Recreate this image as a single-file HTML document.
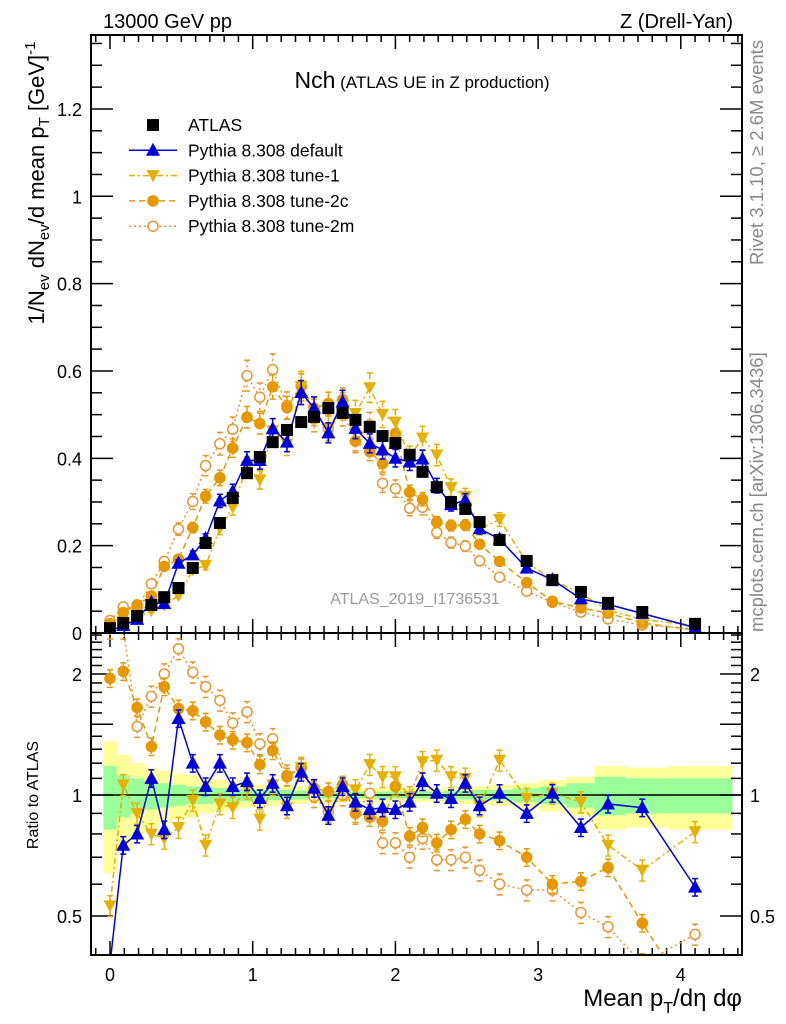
<!DOCTYPE html>
<html><head><meta charset="utf-8">
<style>
html,body{margin:0;padding:0;background:#fff;}
svg{display:block;font-family:"Liberation Sans",sans-serif;}
</style></head>
<body>
<svg id="chart" width="786" height="1024" viewBox="0 0 786 1024" xmlns="http://www.w3.org/2000/svg">
<defs>
<clipPath id="clipMain"><rect x="91" y="35" width="651" height="598"/></clipPath>
<clipPath id="clipRatio"><rect x="91" y="633" width="651" height="322"/></clipPath>
</defs>
<g id="bands" clip-path="url(#clipRatio)"></g>
<g id="ticks"></g>
<g id="series-main" clip-path="url(#clipMain)"></g>
<g id="series-ratio" clip-path="url(#clipRatio)"></g>
<rect x="91" y="35" width="651" height="598" fill="none" stroke="#000" stroke-width="2"/>
<rect x="91" y="633" width="651" height="322" fill="none" stroke="#000" stroke-width="2"/>
<text x="103" y="28" font-size="20">13000 GeV pp</text>
<text x="733" y="28" font-size="20" text-anchor="end">Z (Drell-Yan)</text>
<text x="422" y="88" text-anchor="middle"><tspan font-size="23">Nch</tspan><tspan font-size="17"> (ATLAS UE in Z production)</tspan></text>
<text x="415" y="604" font-size="16" fill="#999" text-anchor="middle">ATLAS_2019_I1736531</text>
<text transform="translate(44,183) rotate(-90)" font-size="22" text-anchor="middle">1/N<tspan font-size="15" dy="5">ev</tspan><tspan dy="-5"> dN</tspan><tspan font-size="15" dy="5">ev</tspan><tspan dy="-5">/d mean p</tspan><tspan font-size="15" dy="5">T</tspan><tspan dy="-5"> [GeV]</tspan><tspan font-size="15" dy="-9">-1</tspan></text>
<text transform="translate(38,795) rotate(-90)" font-size="16" text-anchor="middle">Ratio to ATLAS</text>
<text x="742" y="1006" font-size="24" text-anchor="end">Mean p<tspan font-size="16" dy="7">T</tspan><tspan dy="-7">/dη dφ</tspan></text>
<text transform="translate(763,265) rotate(-90)" font-size="18.5" fill="#888">Rivet 3.1.10, ≥ 2.6M events</text>
<text transform="translate(763,632) rotate(-90)" font-size="18.5" fill="#888">mcplots.cern.ch [arXiv:1306.3436]</text>
<g id="legend"></g>
</svg>
<script>
const xVals = [0,0.093,0.19,0.29,0.38,0.48,0.58,0.67,0.77,0.86,0.96,1.05,1.14,1.24,1.34,1.43,1.53,1.63,1.72,1.82,1.91,2.0,2.1,2.19,2.29,2.39,2.49,2.59,2.73,2.92,3.1,3.3,3.49,3.73,4.1];
const atlasVals = [0.011,0.023,0.039,0.064,0.082,0.103,0.149,0.206,0.252,0.309,0.366,0.403,0.437,0.465,0.483,0.495,0.515,0.504,0.488,0.472,0.451,0.435,0.408,0.369,0.334,0.300,0.284,0.254,0.213,0.165,0.121,0.094,0.069,0.048,0.021];
const ratioDefault = [0.38,0.75,0.80,1.10,0.82,1.55,1.20,1.05,1.20,1.05,1.08,0.98,1.07,0.94,1.14,1.04,0.89,1.05,0.96,0.92,0.93,0.92,0.96,1.08,1.01,0.98,1.07,0.94,1.01,0.90,1.01,0.83,0.95,0.93,0.59];
const ratioTune1 = [0.53,1.06,0.90,0.80,0.78,0.83,0.97,0.75,0.95,0.93,1.04,0.87,1.06,0.93,1.17,1.02,0.91,1.03,1.03,1.19,1.11,1.11,0.99,1.21,1.22,1.11,1.10,0.94,1.22,0.98,1.01,0.96,0.75,0.65,0.81];
const ratioTune2c = [1.95,2.03,1.65,1.32,1.86,1.64,1.62,1.52,1.41,1.37,1.35,1.19,1.29,1.11,1.17,1.04,1.02,1.06,0.90,0.88,0.86,1.05,0.79,0.83,0.76,0.82,0.87,0.80,0.77,0.70,0.60,0.61,0.66,0.48,0.30];
const ratioTune2m = [2.6,2.6,1.48,1.76,2.0,2.31,2.02,1.86,1.72,1.51,1.61,1.34,1.38,1.12,1.17,0.99,0.91,1.0,0.90,1.01,0.76,0.76,0.70,0.78,0.69,0.69,0.70,0.65,0.60,0.58,0.58,0.51,0.47,0.38,0.45];
const bandTotal = [0.36,0.26,0.2,0.17,0.15,0.13,0.12,0.1,0.09,0.08,0.07,0.06,0.06,0.05,0.05,0.04,0.04,0.04,0.04,0.04,0.04,0.04,0.04,0.04,0.04,0.045,0.05,0.05,0.06,0.07,0.09,0.11,0.18,0.17,0.18];
const bandStat = [0.18,0.12,0.1,0.08,0.07,0.06,0.05,0.05,0.04,0.04,0.035,0.03,0.03,0.03,0.025,0.02,0.02,0.02,0.02,0.02,0.02,0.02,0.02,0.02,0.02,0.025,0.025,0.03,0.03,0.04,0.05,0.07,0.11,0.1,0.1];
const mainYTicks = [0,0.2,0.4,0.6,0.8,1,1.2];
const mainYTickLabels = ["0","0.2","0.4","0.6","0.8","1","1.2"];
const xTicks = [0,1,2,3,4];
const ratioTicks = [0.5,1,2];

const NS="http://www.w3.org/2000/svg";
const sx = v => 110 + v*142.7;
const sy = v => 633 - v*436.7;
const sr = r => 795 - 121*Math.log2(r);
function mk(tag, parent, attrs){const e=document.createElementNS(NS,tag);for(const k in attrs)e.setAttribute(k,attrs[k]);parent.appendChild(e);return e;}

const bands=document.getElementById('bands');
function edges(i){const l=i===0?xVals[0]-(xVals[1]-xVals[0])/2:(xVals[i-1]+xVals[i])/2;const r=i===xVals.length-1?xVals[i]+(xVals[i]-xVals[i-1])*0.7:(xVals[i]+xVals[i+1])/2;return [l,r];}
xVals.forEach((x,i)=>{const [l,r]=edges(i);
 const y=mk('rect',bands,{x:sx(l),y:sr(1+bandTotal[i]),width:sx(r)-sx(l)+0.5,height:sr(1-bandTotal[i])-sr(1+bandTotal[i]),fill:'#ffff99'});
 
 
 const g=mk('rect',bands,{x:sx(l),y:sr(1+bandStat[i]),width:sx(r)-sx(l)+0.5,height:sr(1-bandStat[i])-sr(1+bandStat[i]),fill:'#99ff99'});
 
 
});
const one=mk('line',bands,{x1:91,x2:742,y1:sr(1),y2:sr(1),stroke:'#000','stroke-width':1.5});



const tk=document.getElementById('ticks');
function tline(x1,y1,x2,y2,w){mk('line',tk,{x1,y1,x2,y2,stroke:'#000','stroke-width':w||1.5});}
function tlabel(x,y,s,anchor,size){const t=mk('text',tk,{x,y,'font-size':size||18,'text-anchor':anchor});t.textContent=s;
 
 }
for(let v=0;v<=1.36;v+=0.05){const y=sy(v);const major=Math.abs(v/0.2-Math.round(v/0.2))<0.01;const L=major?22:11;tline(91,y,91+L,y);tline(742,y,742-L,y);}
mainYTicks.forEach((v,i)=>tlabel(82,sy(v)+7,mainYTickLabels[i],'end'));
for(let v=-0.1;v<=4.4;v+=0.1){const x=sx(v);const major=Math.abs(v-Math.round(v))<0.01;const L=major?14:7;
 tline(x,35,x,35+L);tline(x,633,x,633-L);tline(x,633,x,633+L);tline(x,955,x,955-L);}
xTicks.forEach(v=>tlabel(sx(v),981,String(v),'middle'));
const rminor=[0.4,0.6,0.7,0.8,0.9,1.1,1.2,1.3,1.4,1.6,1.7,1.8,1.9,2.1,2.2,2.3,2.4,2.5];
rminor.forEach(r=>{const y=sr(r);tline(91,y,102,y);tline(742,y,731,y);});
[0.5,1,1.5,2].forEach(r=>{const y=sr(r);tline(91,y,113,y);tline(742,y,720,y);});
ratioTicks.forEach(r=>{tlabel(82,sr(r)+7,String(r),'end');tlabel(750,sr(r)+7,String(r),'start');});

function marker(g,type,x,y,color,name){let e;
 if(type==='square')e=mk('rect',g,{x:x-6,y:y-6,width:12,height:12,fill:'#000'});
 else if(type==='up')e=mk('polygon',g,{points:`${x},${y-7.5} ${x-7},${y+5.5} ${x+7},${y+5.5}`,fill:color});
 else if(type==='down')e=mk('polygon',g,{points:`${x},${y+6.5} ${x-6.5},${y-5.5} ${x+6.5},${y-5.5}`,fill:color});
 else if(type==='dot')e=mk('circle',g,{cx:x,cy:y,r:5.8,fill:color});
 else e=mk('circle',g,{cx:x,cy:y,r:5,fill:'#fff',stroke:color,'stroke-width':1.5});
 
 
 return e;}

const series=[
 {name:'default',ratio:ratioDefault,color:'#0000dd',dash:'',type:'up',err:0.05},
 {name:'tune-1',ratio:ratioTune1,color:'#e6b000',dash:'6,3,2,3',type:'down',err:0.06},
 {name:'tune-2c',ratio:ratioTune2c,color:'#e69800',dash:'6,4',type:'dot',err:0.05},
 {name:'tune-2m',ratio:ratioTune2m,color:'#ea9530',dash:'2,3',type:'open',err:0.06}
];
const gm=document.getElementById('series-main');
const gr=document.getElementById('series-ratio');
[...series].reverse().forEach(s=>{
 ['main','ratio'].forEach(panel=>{
  const g=panel==='main'?gm:gr;
  const vals=s.ratio.map((r,i)=>panel==='main'?r*atlasVals[i]:r);
  const Y=panel==='main'?sy:sr;
  const pts=vals.map((v,i)=>`${sx(xVals[i])},${Y(v)}`).join(' ');
  const pl=mk('polyline',g,{points:pts,fill:'none',stroke:s.color,'stroke-width':1.5,'stroke-dasharray':s.dash});
  
  
  vals.forEach((v,i)=>{const x=sx(xVals[i]);const y1=Y(v*(1+s.err)),y2=Y(v*(1-s.err));
   mk('line',g,{x1:x,x2:x,y1,y2,stroke:s.color,'stroke-width':1.5,'stroke-dasharray':s.dash});
   mk('line',g,{x1:x-3,x2:x+3,y1,y2:y1,stroke:s.color,'stroke-width':1.5});
   mk('line',g,{x1:x-3,x2:x+3,y1:y2,y2:y2,stroke:s.color,'stroke-width':1.5});
   marker(g,s.type,x,Y(v),s.color,`${panel}-point-${s.name}`);
  });
 });
});
atlasVals.forEach((v,i)=>{marker(gm,'square',sx(xVals[i]),sy(v),'#000','atlas-point');});

const lg=document.getElementById('legend');
const entries=[{label:'ATLAS',type:'square',color:'#000',dash:null},...series.map(s=>({label:'Pythia 8.308 '+s.name,type:s.type,color:s.color,dash:s.dash}))];
entries.forEach((e,i)=>{const y=125+i*25.3;
 const g=mk('g',lg,{});
 
 
 if(e.dash!==null)mk('line',g,{x1:129,x2:177,y1:y,y2:y,stroke:e.color,'stroke-width':1.5,'stroke-dasharray':e.dash});
 marker(g,e.type,153,y,e.color,'legend-marker');
 const t=mk('text',g,{x:188,y:y+6,'font-size':17.5});t.textContent=e.label;});
</script>
</body></html>
